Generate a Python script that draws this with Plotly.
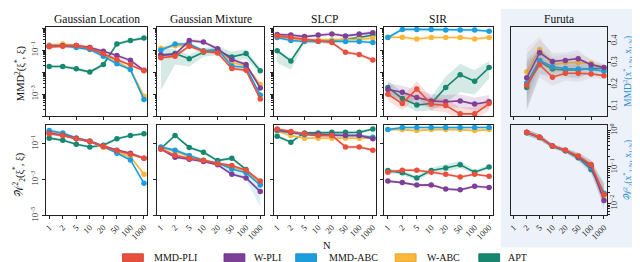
import plotly.graph_objects as go

N_LABELS = ["1", "2", "5", "10", "20", "50", "100", "1000"]
METHODS = ["MMD-PLI", "W-PLI", "MMD-ABC", "W-ABC", "APT"]
DRAW_ORDER = ["APT", "W-ABC", "MMD-ABC", "W-PLI", "MMD-PLI"]
COLORS = {"MMD-PLI": "#ea4f3c", "W-PLI": "#7e3f98", "MMD-ABC": "#199fe0",
          "W-ABC": "#fbb73a", "APT": "#148870"}
FILLS = {"MMD-PLI": "rgba(234,79,60,0.18)", "W-PLI": "rgba(126,63,152,0.16)",
         "MMD-ABC": "rgba(25,159,224,0.16)", "W-ABC": "rgba(251,183,58,0.18)",
         "APT": "rgba(20,136,112,0.18)"}
FURUTA_FILLS = {"MMD-PLI": "rgba(150,120,120,0.12)", "W-PLI": "rgba(130,110,150,0.12)",
                "MMD-ABC": "rgba(110,130,150,0.12)", "W-ABC": "rgba(190,170,110,0.14)",
                "APT": "rgba(100,130,120,0.12)"}
TITLES = ["Gaussian Location", "Gaussian Mixture", "SLCP", "SIR", "Furuta"]

# ---- top row: MMD^2 ----
GL_TOP = {
    "MMD-PLI": [0.14, 0.15, 0.16, 0.12, 0.068, 0.037, 0.022, 0.0115],
    "W-PLI": [0.15, 0.155, 0.16, 0.13, 0.089, 0.056, 0.034, 0.012],
    "MMD-ABC": [0.15, 0.155, 0.13, 0.105, 0.052, 0.024, 0.013, 0.00056],
    "W-ABC": [0.17, 0.19, 0.16, 0.13, 0.062, 0.032, 0.013, 0.0008],
    "APT": [0.018, 0.018, 0.014, 0.010, 0.022, 0.19, 0.27, 0.35],
}
GM_TOP = {
    "MMD-PLI": [0.045, 0.053, 0.15, 0.089, 0.074, 0.0145, 0.012, 0.0006],
    "W-PLI": [0.059, 0.063, 0.27, 0.23, 0.115, 0.037, 0.022, 0.0019],
    "MMD-ABC": [0.098, 0.19, 0.19, 0.093, 0.105, 0.019, 0.016, 0.0009],
    "W-ABC": [0.12, 0.155, 0.16, 0.089, 0.105, 0.027, 0.019, 0.0027],
    "APT": [0.059, 0.069, 0.040, 0.079, 0.093, 0.049, 0.069, 0.0115],
}
SLCP_TOP = {
    "MMD-PLI": [0.44, 0.37, 0.29, 0.25, 0.22, 0.079, 0.063, 0.035],
    "W-PLI": [0.51, 0.48, 0.41, 0.48, 0.54, 0.44, 0.54, 0.62],
    "MMD-ABC": [0.37, 0.27, 0.245, 0.245, 0.245, 0.245, 0.245, 0.22],
    "W-ABC": [0.41, 0.35, 0.29, 0.29, 0.29, 0.31, 0.31, 0.35],
    "APT": [0.093, 0.032, 0.27, 0.27, 0.27, 0.31, 0.37, 0.48],
}
SIR_TOP = {
    "MMD-PLI": [0.00098, 0.00037, 0.0017, 0.00035, 0.0003, 0.000126, 0.000126, 0.00037],
    "W-PLI": [0.0016, 0.0012, 0.0007, 0.00049, 0.00045, 0.00049, 0.00035, 0.00045],
    "MMD-ABC": [0.37, 0.87, 0.87, 0.87, 0.81, 0.81, 0.81, 0.72],
    "W-ABC": [0.38, 0.38, 0.32, 0.37, 0.37, 0.37, 0.32, 0.37],
    "APT": [0.0020, 0.00063, 0.00032, 0.00037, 0.0020, 0.0076, 0.0038, 0.016],
}
FURUTA_TOP = {
    "MMD-PLI": [None, 0.197, 0.291, 0.234, 0.252, 0.252, 0.249, 0.241],
    "W-PLI": [None, 0.231, 0.346, 0.306, 0.311, 0.319, 0.291, 0.279],
    "MMD-ABC": [None, 0.207, 0.311, 0.282, 0.274, 0.271, 0.271, 0.261],
    "W-ABC": [None, 0.259, 0.361, 0.291, 0.301, 0.301, 0.298, 0.276],
    "APT": [None, 0.186, 0.306, 0.271, 0.267, 0.267, 0.274, 0.275],
}

# ---- bottom row: W_2^2 ----
GL_BOT = {
    "MMD-PLI": [0.34, 0.275, 0.18, 0.13, 0.069, 0.039, 0.025, 0.015],
    "W-PLI": [0.36, 0.28, 0.18, 0.125, 0.07, 0.042, 0.028, 0.015],
    "MMD-ABC": [0.51, 0.38, 0.20, 0.135, 0.069, 0.028, 0.012, 0.0006],
    "W-ABC": [0.41, 0.34, 0.2, 0.13, 0.059, 0.034, 0.018, 0.0019],
    "APT": [0.195, 0.148, 0.089, 0.063, 0.078, 0.18, 0.275, 0.34],
}
GM_BOT = {
    "MMD-PLI": [0.048, 0.022, 0.015, 0.011, 0.0074, 0.0058, 0.0032, 0.0008],
    "W-PLI": [0.048, 0.017, 0.013, 0.0098, 0.0065, 0.0019, 0.0012, 0.00021],
    "MMD-ABC": [0.063, 0.042, 0.021, 0.011, 0.0081, 0.0038, 0.0023, 0.00048],
    "W-ABC": [0.058, 0.035, 0.019, 0.012, 0.0075, 0.005, 0.003, 0.00065],
    "APT": [0.052, 0.275, 0.059, 0.032, 0.011, 0.015, 0.0035, 0.00066],
}
SLCP_BOT = {
    "MMD-PLI": [0.63, 0.45, 0.34, 0.275, 0.275, 0.063, 0.063, 0.042],
    "W-PLI": [0.58, 0.41, 0.34, 0.31, 0.30, 0.275, 0.275, 0.18],
    "MMD-ABC": [0.51, 0.41, 0.30, 0.275, 0.275, 0.275, 0.275, 0.22],
    "W-ABC": [0.47, 0.275, 0.195, 0.195, 0.195, 0.195, 0.195, 0.195],
    "APT": [0.25, 0.117, 0.38, 0.38, 0.41, 0.41, 0.41, 0.63],
}
SIR_BOT = {
    "MMD-PLI": [0.0025, 0.0032, 0.0032, 0.0025, 0.0019, 0.00135, 0.0019, 0.0015],
    "W-PLI": [0.0008, 0.00066, 0.00048, 0.00049, 0.00029, 0.00026, 0.00041, 0.00035],
    "MMD-ABC": [0.58, 0.76, 0.76, 0.76, 0.76, 0.76, 0.76, 0.76],
    "W-ABC": [0.58, 0.58, 0.51, 0.58, 0.58, 0.58, 0.51, 0.58],
    "APT": [0.0031, 0.0023, 0.0012, 0.0031, 0.0043, 0.0065, 0.0025, 0.0049],
}
FURUTA_BOT = {
    "MMD-PLI": [None, 0.90, 0.66, 0.38, 0.29, 0.20, 0.117, 0.0174],
    "W-PLI": [None, 0.90, 0.66, 0.38, 0.29, 0.19, 0.11, 0.012],
    "MMD-ABC": [None, 0.88, 0.65, 0.37, 0.28, 0.19, 0.10, 0.019],
    "W-ABC": [None, 0.89, 0.66, 0.38, 0.29, 0.20, 0.11, 0.016],
    "APT": [None, 0.88, 0.65, 0.37, 0.28, 0.18, 0.085, 0.018],
}

# ---- shaded-band half widths (log decades; Furuta top in linear units) ----
BAND_DEFAULT = 0.08
GM_TOP_APT_LO = [1.6, 0.5, 0.35, 0.2, 0.2, 0.2, 0.25, 0.15]
GM_TOP_APT_HI = [0.3, 0.2, 0.2, 0.2, 0.2, 0.25, 0.2, 0.12]
SLCP_TOP_APT_LO = [0.55, 0.4, 0.1, 0.06, 0.06, 0.06, 0.06, 0.06]
SLCP_TOP_APT_HI = [0.1, 0.1, 0.06, 0.06, 0.06, 0.06, 0.06, 0.06]
SIR_TOP_APT_LO = [0.3, 0.3, 0.3, 0.3, 0.7, 0.8, 0.6, 0.5]
SIR_TOP_APT_HI = [0.3, 0.3, 0.3, 0.3, 0.5, 0.5, 0.5, 0.3]
SIR_TOP_PLI_SPREAD = [0.3, 0.3, 0.35, 0.3, 0.3, 0.3, 0.3, 0.3]
GM_BOT_ABC_LO = [0.08, 0.1, 0.1, 0.1, 0.15, 0.3, 0.4, 1.2]
SIR_BOT_APT_SPREAD = [0.12, 0.12, 0.15, 0.15, 0.2, 0.2, 0.12, 0.12]
FURUTA_TOP_SPREAD = [None, 0.11, 0.06, 0.04, 0.035, 0.04, 0.02, 0.015]
FURUTA_BOT_SPREAD = [None, 0.08, 0.08, 0.06, 0.06, 0.1, 0.14, 0.3]

TOP = [GL_TOP, GM_TOP, SLCP_TOP, SIR_TOP, FURUTA_TOP]
BOT = [GL_BOT, GM_BOT, SLCP_BOT, SIR_BOT, FURUTA_BOT]

BANDS = {
    (0, 1, "APT"): (GM_TOP_APT_LO, GM_TOP_APT_HI),
    (0, 2, "APT"): (SLCP_TOP_APT_LO, SLCP_TOP_APT_HI),
    (0, 3, "APT"): (SIR_TOP_APT_LO, SIR_TOP_APT_HI),
    (0, 3, "MMD-PLI"): (SIR_TOP_PLI_SPREAD, SIR_TOP_PLI_SPREAD),
    (0, 3, "W-PLI"): (SIR_TOP_PLI_SPREAD, SIR_TOP_PLI_SPREAD),
    (1, 1, "MMD-ABC"): (GM_BOT_ABC_LO, [0.1] * 8),
    (1, 3, "APT"): (SIR_BOT_APT_SPREAD, SIR_BOT_APT_SPREAD),
}

W, H = 640, 262
COLS_PX = [(36, 138), (148, 255), (265, 368), (376, 485), (503, 600)]
ROWS_PX = [(18, 110), (119, 212)]
FONT = "Liberation Serif"
RIGHT_BLUE = "#2f8fd4"
RIGHT_TITLES = [
    "MMD<sup>2</sup>(x<sup>*</sup><sub>1:N</sub>, x<sub>1:N</sub>)",
    "𝒲<sup>2</sup><sub>2</sub>(x<sup>*</sup><sub>1:N</sub>, x<sub>1:N</sub>)",
]


def xd(a, b):
    return [a / W, b / W]


def yd(a, b):
    return [1 - b / H, 1 - a / H]


def sup(e):
    return "10<sup>" + (("\u2212" + str(-e)) if e < 0 else str(e)) + "</sup>"


fig = go.Figure()
layout = {}

minor_log = [m * 10.0 ** e for e in range(-6, 1) for m in range(2, 10)]

for r, rowdata in enumerate([TOP, BOT]):
    for c in range(5):
        k = r * 5 + c + 1
        xn = "x" if k == 1 else f"x{k}"
        yn = "y" if k == 1 else f"y{k}"
        data = rowdata[c]
        furuta = c == 4
        linear = furuta and r == 0
        for m in DRAW_ORDER:
            vals = data[m]
            idx = [i for i, v in enumerate(vals) if v is not None]
            xs = [N_LABELS[i] for i in idx]
            ys = [vals[i] for i in idx]
            if furuta and r == 0:
                sp = FURUTA_TOP_SPREAD
                hi = [vals[i] + sp[i] for i in idx]
                lo = [max(vals[i] - sp[i], 0.01) for i in idx]
            else:
                if furuta:
                    lo_s = hi_s = FURUTA_BOT_SPREAD
                elif (r, c, m) in BANDS:
                    lo_s, hi_s = BANDS[(r, c, m)]
                else:
                    lo_s = hi_s = [BAND_DEFAULT] * 8
                hi = [vals[i] * 10 ** hi_s[i] for i in idx]
                lo = [vals[i] / 10 ** lo_s[i] for i in idx]
            fig.add_trace(go.Scatter(
                x=xs + xs[::-1], y=hi + lo[::-1], mode="lines", fill="toself",
                fillcolor=(FURUTA_FILLS[m] if furuta else FILLS[m]),
                line=dict(width=0), hoverinfo="skip",
                showlegend=False, xaxis=xn, yaxis=yn))
            fig.add_trace(go.Scatter(
                x=xs, y=ys, mode="lines+markers", name=m, showlegend=False,
                line=dict(color=COLORS[m], width=1.6),
                marker=dict(color=COLORS[m], size=5.5),
                xaxis=xn, yaxis=yn))

        xa = dict(domain=xd(*COLS_PX[c]), anchor=yn, type="category",
                  categoryorder="array", categoryarray=N_LABELS,
                  range=[-0.25, 7.25], showline=True, mirror=True,
                  linecolor="#222", linewidth=1, ticks="outside", ticklen=3,
                  tickcolor="#222", showgrid=False, zeroline=False,
                  tickangle=-45, tickfont=dict(family=FONT, size=8.5, color="#222"),
                  showticklabels=(r == 1))
        ya = dict(domain=yd(*ROWS_PX[r]), anchor=xn, showline=True, mirror=True,
                  linecolor="#222", linewidth=1, ticks="outside", ticklen=3,
                  tickcolor="#222", showgrid=False, zeroline=False,
                  tickangle=-90, tickfont=dict(family=FONT, size=8.5, color="#222"))
        if furuta:
            ya.update(side="right", ticklabelstandoff=-4,
                      title=dict(text=RIGHT_TITLES[r], standoff=5,
                                 font=dict(family=FONT, size=9.5, color=RIGHT_BLUE)))
        if linear:
            ya.update(type="linear", range=[0.055, 0.467],
                      tickmode="array", tickvals=[0.1, 0.2, 0.3, 0.4],
                      ticktext=["0.1", "0.2", "0.3", "0.4"])
        elif furuta:
            ya.update(type="log", range=[-2.33, 0.16],
                      tickmode="array", tickvals=[1, 0.1, 0.01],
                      ticktext=[sup(0), sup(-1), sup(-2)],
                      minor=dict(tickmode="array", tickvals=minor_log,
                                 ticks="outside", ticklen=1.5, tickcolor="#222"))
        elif r == 0:
            ya.update(type="log", range=[-4.0, 0.07], tickmode="array",
                      tickvals=[1, 0.1, 0.01, 0.001, 0.0001],
                      ticktext=["", sup(-1), "", sup(-3), ""],
                      showticklabels=(c == 0),
                      minor=dict(tickmode="array", tickvals=minor_log,
                                 ticks="outside", ticklen=1.5, tickcolor="#222"))
        else:
            ya.update(type="log", range=[-5.0, 0.03], tickmode="array",
                      tickvals=[0.1, 0.001, 0.00001],
                      ticktext=[sup(-1), sup(-3), sup(-5)],
                      showticklabels=(c == 0))
        layout["xaxis" if k == 1 else f"xaxis{k}"] = xa
        layout["yaxis" if k == 1 else f"yaxis{k}"] = ya

annotations = []
for c, t in enumerate(TITLES):
    a, b = COLS_PX[c]
    annotations.append(dict(x=(a + b) / 2 / W, y=1 - 10 / H, text=t,
                            font=dict(family=FONT, size=11.5, color="#111")))
annotations += [
    dict(x=10 / W, y=1 - 66 / H, text="MMD<sup>2</sup>(ξ<sup>*</sup>, ξ)", textangle=-90),
    dict(x=10 / W, y=1 - 170 / H, text="𝒲<sup>2</sup><sub>2</sub>(ξ<sup>*</sup>, ξ)", textangle=-90),
    dict(x=318 / W, y=1 - 243 / H, text="N"),
]

shapes = [dict(type="rect", xref="paper", yref="paper", x0=493 / W, x1=1,
               y0=1 - 245 / H, y1=1, fillcolor="#edf2fa", line=dict(width=0),
               layer="below")]

LEG_SWATCH_X = [113, 215, 287, 387, 471]
LEG_TEXT_X = [143, 243, 318, 417, 498]
LEG_DARK = {"MMD-PLI": "#c23a2a", "W-PLI": "#5e2c75", "MMD-ABC": "#1382b8",
            "W-ABC": "#d99a25", "APT": "#0d6a56"}
for m, sx, tx in zip(METHODS, LEG_SWATCH_X, LEG_TEXT_X):
    shapes.append(dict(type="rect", xref="paper", yref="paper", x0=sx / W, x1=(sx + 21) / W,
                       y0=1 - 259.5 / H, y1=1 - 251.5 / H, fillcolor=COLORS[m],
                       line=dict(width=0.8, color=LEG_DARK[m])))
    annotations.append(dict(x=tx / W, y=1 - 255.5 / H, text=m, xanchor="left",
                            font=dict(family=FONT, size=10, color="#111")))

for a in annotations:
    a.setdefault("xref", "paper")
    a.setdefault("yref", "paper")
    a.setdefault("showarrow", False)
    a.setdefault("xanchor", "center")
    a.setdefault("yanchor", "middle")
    a.setdefault("font", dict(family=FONT, size=10.5, color="#111"))

fig.update_layout(
    width=W, height=H, margin=dict(l=0, r=0, t=0, b=0),
    paper_bgcolor="white", plot_bgcolor="rgba(0,0,0,0)",
    showlegend=False, annotations=annotations, shapes=shapes,
    font=dict(family=FONT, size=10, color="#111"),
    **layout,
)

fig.write_html("out.html")
